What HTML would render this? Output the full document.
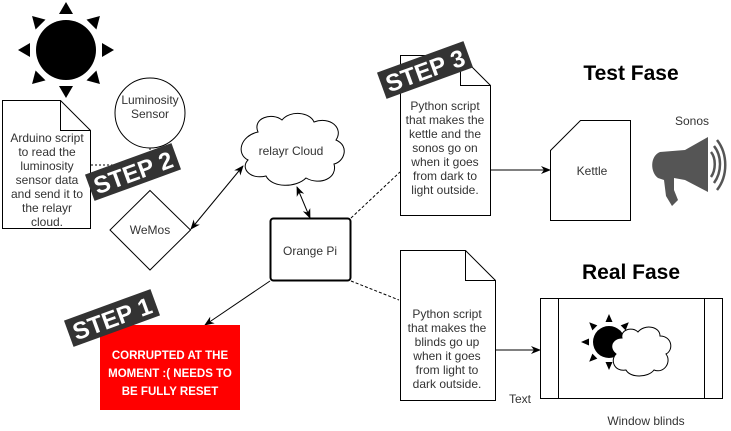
<!DOCTYPE html>
<html><head><meta charset="utf-8"><style>
body{margin:0;background:#fff;}
svg{display:block;font-family:"Liberation Sans",Arial,sans-serif;}
</style></head><body>
<svg width="731" height="431" viewBox="0 0 731 431" xmlns="http://www.w3.org/2000/svg">
<defs>
<marker id="a" markerWidth="10" markerHeight="10" refX="9" refY="5" orient="auto-start-reverse" markerUnits="userSpaceOnUse"><path d="M0,1 L10,5 L0,9 L3,5 Z" fill="#000"/></marker>
</defs>
<!-- Sun -->
<g transform="translate(66,50)">
<circle r="30" fill="#000"/>
<g fill="#000">
<polygon points="-7,-36 7,-36 0,-48"/>
<polygon points="-7,36 7,36 0,48" />
<polygon points="-36,-7 -36,7 -48,0"/>
<polygon points="36,-7 36,7 48,0"/>
<g transform="rotate(45)"><polygon points="-7,-36 7,-36 0,-48"/><polygon points="-7,36 7,36 0,48"/><polygon points="-36,-7 -36,7 -48,0"/><polygon points="36,-7 36,7 48,0"/></g>
</g></g>
<!-- Luminosity sensor -->
<circle cx="150" cy="113" r="35" fill="#fff" stroke="#000"/>
<text x="150" y="104" font-size="12" text-anchor="middle" fill="#333">Luminosity</text>
<text x="150" y="118" font-size="12" text-anchor="middle" fill="#333">Sensor</text>
<!-- dotted -->
<path d="M91,165 H150 M150,148 V165" stroke="#000" stroke-dasharray="2,2" fill="none"/>
<!-- Arduino doc -->
<path d="M2.5,100.5 H60.5 L90.5,130.5 V228.5 H2.5 Z" fill="#fff" stroke="#000"/>
<path d="M60.5,100.5 V130.5 H90.5" fill="none" stroke="#000"/>
<g font-size="12" text-anchor="middle" fill="#333">
<text x="47" y="142">Arduino script</text>
<text x="47" y="156">to read the</text>
<text x="47" y="170">luminosity</text>
<text x="47" y="184">sensor data</text>
<text x="47" y="198">and send it to</text>
<text x="47" y="212">the relayr</text>
<text x="47" y="226">cloud.</text>
</g>
<!-- WeMos -->
<polygon points="150,190.5 190.5,230 150,270 110,230" fill="#fff" stroke="#000"/>
<text x="150" y="234" font-size="12" text-anchor="middle" fill="#333">WeMos</text>
<!-- STEP 2 -->
<g transform="translate(133,172) rotate(-20)"><rect x="-46" y="-14" width="92" height="28" fill="#333"/><text x="0" y="9" font-size="24" font-weight="bold" text-anchor="middle" fill="#fff">STEP 2</text></g>
<!-- Cloud -->
<path d="M258,132 C252,118 272,112 282,120 C290,110 310,112 314,122 C330,116 344,128 336,140 C350,146 344,162 334,164 C338,178 320,186 306,178 C296,188 272,188 266,176 C250,180 240,168 248,160 C236,154 240,136 258,132 Z" fill="#fff" stroke="#000"/>
<text x="291" y="155" font-size="12" text-anchor="middle" fill="#333">relayr Cloud</text>
<!-- arrows -->
<line x1="191" y1="229" x2="243" y2="166" stroke="#000" marker-start="url(#a)" marker-end="url(#a)"/>
<line x1="297" y1="187" x2="310" y2="218" stroke="#000" marker-start="url(#a)" marker-end="url(#a)"/>
<!-- Orange Pi -->
<rect x="270.5" y="218.5" width="80" height="62" rx="3" fill="#fff" stroke="#000" stroke-width="2"/>
<text x="310" y="255" font-size="12" text-anchor="middle" fill="#333">Orange Pi</text>
<path d="M351,218 L400,172 M351,281 L399,300" stroke="#000" stroke-dasharray="3,2" fill="none"/>
<line x1="270" y1="281" x2="205" y2="325" stroke="#000" marker-end="url(#a)"/>
<!-- Red box -->
<rect x="100" y="325" width="140" height="85" fill="#f00"/>
<g font-size="11.5" font-weight="bold" text-anchor="middle" fill="#fff">
<text x="170" y="359">CORRUPTED AT THE</text>
<text x="170" y="377">MOMENT :( NEEDS TO</text>
<text x="170" y="395">BE FULLY RESET</text>
</g>
<g transform="translate(112,318) rotate(-20)"><rect x="-46" y="-14" width="92" height="28" fill="#333"/><text x="0" y="9" font-size="24" font-weight="bold" text-anchor="middle" fill="#fff">STEP 1</text></g>
<!-- Doc 3 -->
<path d="M400.5,55.5 H460.5 L490.5,85.5 V215.5 H400.5 Z" fill="#fff" stroke="#000"/>
<path d="M460.5,55.5 V85.5 H490.5" fill="none" stroke="#000"/>
<g font-size="12" text-anchor="middle" fill="#333">
<text x="445" y="110">Python script</text>
<text x="445" y="124">that makes the</text>
<text x="445" y="138">kettle and the</text>
<text x="445" y="152">sonos go on</text>
<text x="445" y="166">when it goes</text>
<text x="445" y="180">from dark to</text>
<text x="445" y="194">light outside.</text>
</g>
<g transform="translate(425,70) rotate(-20)"><rect x="-46" y="-14" width="92" height="28" fill="#333"/><text x="0" y="9" font-size="24" font-weight="bold" text-anchor="middle" fill="#fff">STEP 3</text></g>
<line x1="490" y1="170" x2="550" y2="170" stroke="#000" marker-end="url(#a)"/>
<!-- Kettle -->
<path d="M580.5,120.5 H630.5 V220.5 H550.5 V150.5 Z" fill="#fff" stroke="#000"/>
<text x="592" y="175" font-size="12" text-anchor="middle" fill="#333">Kettle</text>
<text x="631" y="80" font-size="21" font-weight="bold" text-anchor="middle" fill="#000">Test Fase</text>
<text x="692" y="125" font-size="12" text-anchor="middle" fill="#333">Sonos</text>
<!-- megaphone -->
<g fill="#555">
<path d="M660,152 L685,150 L708,137 L708,192 L685,180 L674,178 L674,190 L678,200 L672,206 L666,196 L664,180 L658,178 C650,172 650,156 660,152 Z"/>
</g>
<g fill="none" stroke="#555" stroke-width="2.5">
<path d="M711,152 C716,158 716,170 711,177"/>
<path d="M714,146 C722,156 722,172 714,183"/>
<path d="M717,140 C728,154 728,176 717,190"/>
</g>
<text x="631" y="279" font-size="21" font-weight="bold" text-anchor="middle" fill="#000">Real Fase</text>
<!-- Doc 4 -->
<path d="M400.5,250.5 H465.5 L495.5,280.5 V400.5 H400.5 Z" fill="#fff" stroke="#000"/>
<path d="M465.5,250.5 V280.5 H495.5" fill="none" stroke="#000"/>
<g font-size="12" text-anchor="middle" fill="#333">
<text x="447" y="318">Python script</text>
<text x="447" y="332">that makes the</text>
<text x="447" y="346">blinds go up</text>
<text x="447" y="360">when it goes</text>
<text x="447" y="374">from light to</text>
<text x="447" y="388">dark outside.</text>
</g>
<line x1="495" y1="350" x2="540" y2="350" stroke="#000" marker-end="url(#a)"/>
<text x="520" y="403" font-size="12" text-anchor="middle" fill="#333">Text</text>
<!-- Window blinds -->
<rect x="540.5" y="298.5" width="182" height="100" fill="#fff" stroke="#000"/>
<path d="M558.5,298.5 V398.5 M704.5,298.5 V398.5" stroke="#000"/>
<g transform="translate(609,342)" fill="#000">
<circle r="16"/>
<polygon points="-3.5,-20 3.5,-20 0,-28"/><polygon points="-3.5,20 3.5,20 0,28"/>
<polygon points="-20,-3.5 -20,3.5 -28,0"/>
<g transform="rotate(45)"><polygon points="-3.5,-20 3.5,-20 0,-28"/><polygon points="-3.5,20 3.5,20 0,28"/><polygon points="-20,-3.5 -20,3.5 -28,0"/><polygon points="20,-3.5 20,3.5 28,0"/></g>
</g>
<path d="M622,338 C620,330 632,326 638,332 C644,324 660,326 660,336 C672,336 674,350 666,354 C672,362 664,374 654,370 C648,378 630,378 626,370 C614,372 610,360 616,354 C608,348 612,338 622,338 Z" fill="#fff" stroke="#000"/>
<text x="646" y="425" font-size="12" text-anchor="middle" fill="#333">Window blinds</text>
</svg>
</body></html>
